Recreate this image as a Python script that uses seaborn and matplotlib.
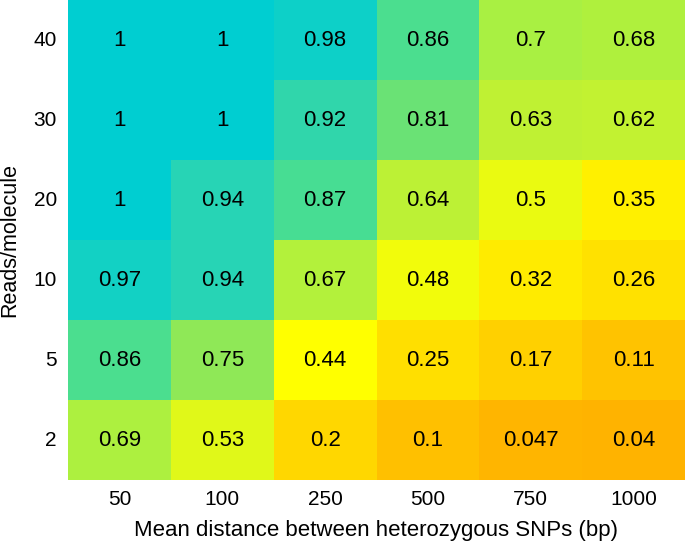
import numpy as np
import pandas as pd
import matplotlib
matplotlib.use('Agg')
import matplotlib.pyplot as plt
import seaborn as sns
from matplotlib.colors import LinearSegmentedColormap

# Data
distances = ['50', '100', '250', '500', '750', '1000']
reads = ['40', '30', '20', '10', '5', '2']
values = [
    [1, 1, 0.98, 0.86, 0.7, 0.68],
    [1, 1, 0.92, 0.81, 0.63, 0.62],
    [1, 0.94, 0.87, 0.64, 0.5, 0.35],
    [0.97, 0.94, 0.67, 0.48, 0.32, 0.26],
    [0.86, 0.75, 0.44, 0.25, 0.17, 0.11],
    [0.69, 0.53, 0.2, 0.1, 0.047, 0.04],
]
annot_labels = [
    ['1', '1', '0.98', '0.86', '0.7', '0.68'],
    ['1', '1', '0.92', '0.81', '0.63', '0.62'],
    ['1', '0.94', '0.87', '0.64', '0.5', '0.35'],
    ['0.97', '0.94', '0.67', '0.48', '0.32', '0.26'],
    ['0.86', '0.75', '0.44', '0.25', '0.17', '0.11'],
    ['0.69', '0.53', '0.2', '0.1', '0.047', '0.04'],
]

df = pd.DataFrame(values, index=reads, columns=distances)

# orange -> yellow -> green -> turquoise
cmap = LinearSegmentedColormap.from_list('oyt', [
    (0.0, '#ffaa00'),
    (0.2, '#ffd700'),
    (0.44, '#ffff00'),
    (0.6, '#c8f22d'),
    (0.7, '#aaf041'),
    (0.75, '#91e855'),
    (0.86, '#4cde8e'),
    (0.94, '#28d4b4'),
    (1.0, '#00ced1'),
])

plt.rcParams['font.family'] = ['Liberation Sans', 'DejaVu Sans']

fig = plt.figure(figsize=(6.85, 5.45), dpi=100)
ax = fig.add_axes([68 / 685, 1 - 480 / 545, 1 - 68 / 685, 480 / 545])
sns.heatmap(df, cmap=cmap, vmin=0, vmax=1, cbar=False, annot=np.array(annot_labels),
            fmt='', annot_kws={'fontsize': 16, 'color': 'black'}, ax=ax)
ax.set_xlabel('Mean distance between heterozygous SNPs (bp)', fontsize=16, labelpad=8)
ax.set_ylabel('Reads/molecule', fontsize=15.5)
ax.yaxis.set_label_coords(-0.077, 0.5)
ax.tick_params(axis='x', length=0, labelsize=15, pad=7)
ax.tick_params(axis='y', length=0, labelsize=15, pad=8)
plt.setp(ax.get_yticklabels(), rotation=0)
plt.setp(ax.get_xticklabels(), rotation=0)

fig.savefig('out.png', dpi=100)
